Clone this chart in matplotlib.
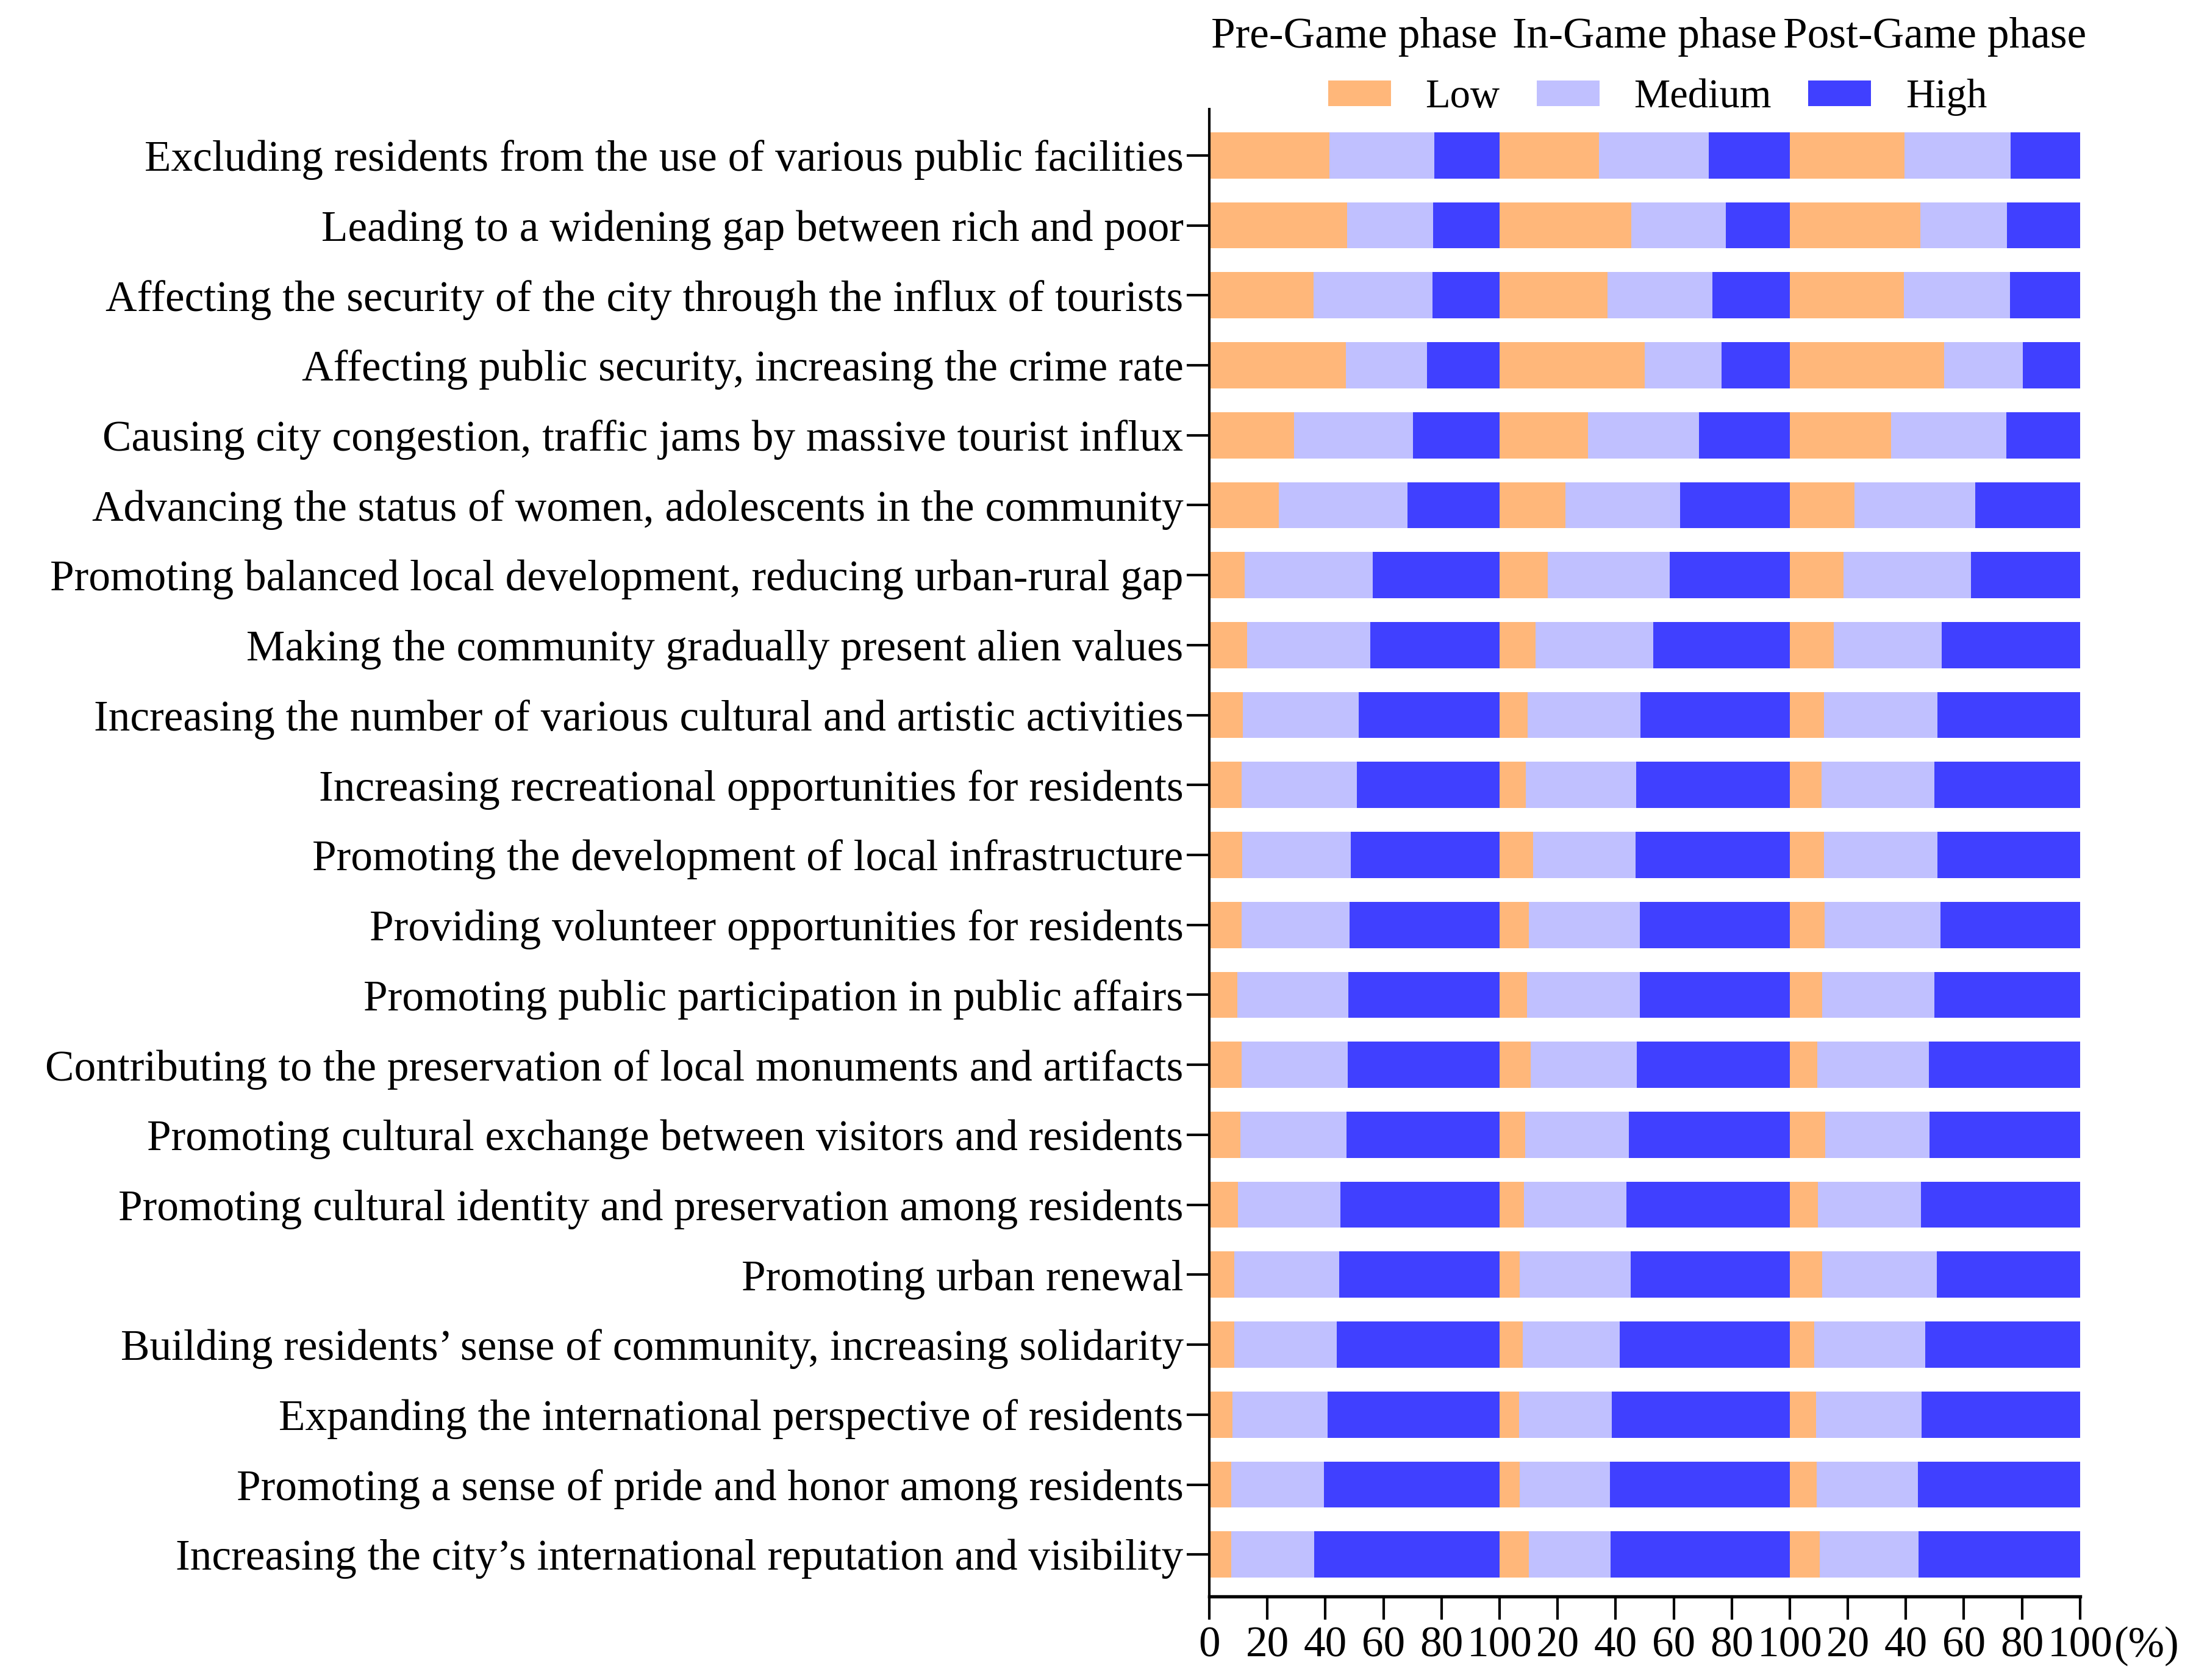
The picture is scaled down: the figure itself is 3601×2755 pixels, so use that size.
import matplotlib
matplotlib.use("Agg")
import matplotlib.pyplot as plt
from matplotlib.patches import Patch
import numpy as np

plt.rcParams['font.family'] = ['Liberation Serif', 'DejaVu Serif']

categories = [
    "Excluding residents from the use of various public facilities",
    "Leading to a widening gap between rich and poor",
    "Affecting the security of the city through the influx of tourists",
    "Affecting public security, increasing the crime rate",
    "Causing city congestion, traffic jams by massive tourist influx",
    "Advancing the status of women, adolescents in the community",
    "Promoting balanced local development, reducing urban-rural gap",
    "Making the community gradually present alien values",
    "Increasing the number of various cultural and artistic activities",
    "Increasing recreational opportunities for residents",
    "Promoting the development of local infrastructure",
    "Providing volunteer opportunities for residents",
    "Promoting public participation in public affairs",
    "Contributing to the preservation of local monuments and artifacts",
    "Promoting cultural exchange between visitors and residents",
    "Promoting cultural identity and preservation among residents",
    "Promoting urban renewal",
    "Building residents\u2019 sense of community, increasing solidarity",
    "Expanding the international perspective of residents",
    "Promoting a sense of pride and honor among residents",
    "Increasing the city\u2019s international reputation and visibility",
]

phases = ["Pre-Game phase", "In-Game phase", "Post-Game phase"]
levels = ["Low", "Medium", "High"]

# percentages (Low, Medium); High = 100 - Low - Medium
pre_low = [41.4, 47.5, 36.0, 47.1, 29.2, 23.9, 12.1, 13.0, 11.5, 11.1, 11.3,
           11.1, 9.7, 11.1, 10.7, 9.9, 8.6, 8.6, 8.0, 7.6, 7.6]
pre_med = [36.2, 29.5, 40.8, 27.8, 41.0, 44.4, 44.3, 42.4, 39.9, 39.7, 37.5,
           37.3, 38.2, 36.6, 36.6, 35.2, 36.1, 35.2, 32.7, 31.9, 28.6]
in_low = [34.2, 45.3, 37.2, 50.0, 30.4, 22.6, 16.7, 12.3, 9.7, 9.1, 11.5,
          10.1, 9.5, 10.7, 8.8, 8.4, 7.0, 8.0, 6.8, 7.0, 10.1]
in_med = [37.8, 32.7, 36.1, 26.5, 38.3, 39.5, 41.9, 40.6, 38.9, 38.0, 35.4,
          38.3, 38.9, 36.6, 35.8, 35.2, 38.1, 33.4, 31.9, 31.1, 28.2]
post_low = [39.5, 44.9, 39.3, 53.1, 34.8, 22.2, 18.5, 15.2, 11.7, 10.9, 11.7,
            11.9, 11.1, 9.5, 12.3, 9.7, 11.1, 8.4, 9.1, 9.3, 10.3]
post_med = [36.6, 30.0, 36.6, 27.1, 39.7, 41.6, 44.0, 37.1, 39.1, 38.9, 39.1,
            40.1, 38.7, 38.4, 35.8, 35.4, 39.5, 38.3, 36.2, 34.9, 34.1]

tick_labels = ["0", "20", "40", "60", "80", "100", "20", "40", "60", "80",
               "100", "20", "40", "60", "80", "100"]

colors = {"Low": "#FFB77A", "Medium": "#C0C0FF", "High": "#4040FF"}
FS = 17.1

fig = plt.figure(figsize=(3601 / 300, 2755 / 300), dpi=300)
ax = fig.add_axes([0.5507, 0.0497, 0.3965, 0.8853])

n = len(categories)
y = np.arange(n)[::-1]
bh = 0.66

data = [(pre_low, pre_med), (in_low, in_med), (post_low, post_med)]
for p, (lo, me) in enumerate(data):
    lo = np.array(lo)
    me = np.array(me)
    hi = 100 - lo - me
    off = p * 100
    ax.barh(y, lo, left=off, height=bh, color=colors["Low"], linewidth=0)
    ax.barh(y, me, left=off + lo, height=bh, color=colors["Medium"], linewidth=0)
    ax.barh(y, hi, left=off + lo + me, height=bh, color=colors["High"], linewidth=0)

ax.set_xlim(0, 300)
ax.set_ylim(-0.6, n - 1 + 0.66)
ax.set_yticks(y)
ax.set_yticklabels(categories, fontsize=FS)
ax.set_xticks(np.arange(0, 301, 20))
ax.set_xticklabels(tick_labels, fontsize=FS)
for s in ["top", "right"]:
    ax.spines[s].set_visible(False)
ax.spines["left"].set_linewidth(1.0)
ax.spines["bottom"].set_linewidth(1.3)
ax.tick_params(axis='x', direction='out', length=9, width=1.0, pad=2.6)
ax.tick_params(axis='y', direction='out', length=9, width=1.0, pad=1.2)

ax.annotate("(%)", xy=(300, 0), xycoords=('data', 'axes fraction'),
            xytext=(13.5, -11.6), textcoords='offset points', fontsize=FS,
            ha='left', va='top')

pos = ax.get_position()
for p, name in enumerate(phases):
    fig.text(pos.x0 + (p + 0.5) / 3 * pos.width, 0.978, name,
             fontsize=FS, ha='center', va='center')

handles = [Patch(facecolor=colors[l], edgecolor='none', label=l) for l in levels]
fig.legend(handles=handles, loc='center', bbox_to_anchor=(0.7548, 0.942), ncol=3,
           frameon=False, fontsize=16, handlelength=1.55, handleheight=0.6,
           handletextpad=0.85, columnspacing=0.9)

fig.savefig("out.png", dpi=300)
